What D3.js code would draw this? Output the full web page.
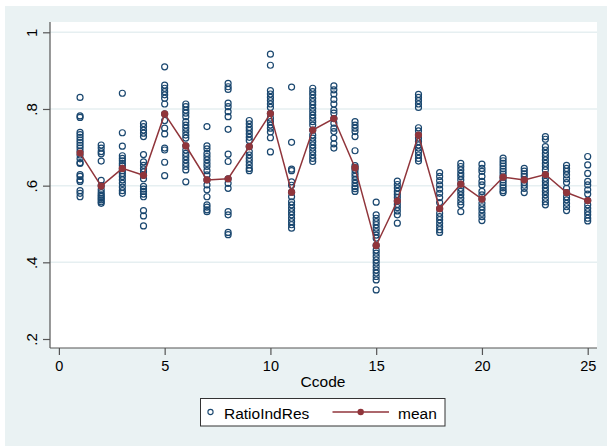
<!DOCTYPE html>
<html>
<head>
<meta charset="utf-8">
<script src="https://d3js.org/d3.v7.min.js"></script>
<style>
  body { margin: 0; background: #fff; }
  text { font-family: "Liberation Sans", Arial, sans-serif; }
</style>
</head>
<body>
<script>
// categories on the x axis
var ccode = d3.range(1, 26);

// RatioIndRes observations, one list per Ccode
var ratioIndRes = [
  [0.830, 0.782, 0.778, 0.739, 0.733, 0.726, 0.719, 0.712, 0.705, 0.698, 0.690, 0.680, 0.670, 0.660, 0.658, 0.629, 0.624, 0.615, 0.611, 0.587, 0.580, 0.571],
  [0.706, 0.698, 0.689, 0.683, 0.664, 0.614, 0.600, 0.589, 0.582, 0.576, 0.572, 0.567, 0.563, 0.558, 0.554],
  [0.841, 0.738, 0.703, 0.678, 0.671, 0.665, 0.658, 0.652, 0.645, 0.639, 0.632, 0.624, 0.615, 0.606, 0.596, 0.587, 0.580],
  [0.762, 0.754, 0.745, 0.737, 0.728, 0.681, 0.662, 0.653, 0.644, 0.636, 0.627, 0.618, 0.598, 0.591, 0.585, 0.578, 0.571, 0.535, 0.521, 0.495],
  [0.910, 0.862, 0.854, 0.845, 0.837, 0.828, 0.813, 0.787, 0.770, 0.750, 0.735, 0.698, 0.693, 0.661, 0.626],
  [0.813, 0.806, 0.797, 0.789, 0.780, 0.767, 0.758, 0.750, 0.741, 0.732, 0.724, 0.704, 0.693, 0.684, 0.676, 0.667, 0.658, 0.650, 0.641, 0.610],
  [0.754, 0.704, 0.696, 0.684, 0.676, 0.667, 0.658, 0.650, 0.639, 0.628, 0.615, 0.602, 0.589, 0.571, 0.550, 0.544, 0.537, 0.532],
  [0.867, 0.858, 0.851, 0.815, 0.806, 0.793, 0.780, 0.747, 0.682, 0.663, 0.618, 0.606, 0.593, 0.532, 0.524, 0.478, 0.472],
  [0.770, 0.761, 0.752, 0.744, 0.735, 0.726, 0.718, 0.702, 0.689, 0.680, 0.671, 0.663, 0.654, 0.645, 0.639],
  [0.943, 0.914, 0.848, 0.839, 0.830, 0.822, 0.813, 0.804, 0.788, 0.776, 0.767, 0.758, 0.750, 0.740, 0.725, 0.688],
  [0.857, 0.713, 0.643, 0.639, 0.610, 0.601, 0.583, 0.571, 0.558, 0.550, 0.541, 0.532, 0.524, 0.515, 0.506, 0.498, 0.489],
  [0.854, 0.845, 0.837, 0.828, 0.819, 0.811, 0.802, 0.793, 0.784, 0.776, 0.767, 0.758, 0.745, 0.732, 0.724, 0.715, 0.706, 0.698, 0.689, 0.680, 0.671, 0.663],
  [0.860, 0.850, 0.839, 0.825, 0.813, 0.797, 0.789, 0.775, 0.763, 0.750, 0.741, 0.724, 0.709, 0.698],
  [0.767, 0.758, 0.750, 0.741, 0.728, 0.691, 0.652, 0.647, 0.641, 0.632, 0.624, 0.615, 0.606, 0.598, 0.592, 0.585],
  [0.557, 0.524, 0.515, 0.506, 0.498, 0.489, 0.480, 0.471, 0.463, 0.444, 0.432, 0.424, 0.415, 0.406, 0.398, 0.389, 0.380, 0.372, 0.363, 0.354, 0.328],
  [0.612, 0.603, 0.594, 0.585, 0.577, 0.569, 0.560, 0.551, 0.543, 0.534, 0.524, 0.502],
  [0.838, 0.830, 0.822, 0.813, 0.804, 0.751, 0.743, 0.732, 0.724, 0.715, 0.706, 0.698, 0.689, 0.680, 0.671, 0.664],
  [0.634, 0.624, 0.613, 0.602, 0.591, 0.580, 0.569, 0.556, 0.540, 0.528, 0.519, 0.511, 0.502, 0.493, 0.485, 0.478],
  [0.658, 0.650, 0.641, 0.632, 0.624, 0.615, 0.604, 0.593, 0.585, 0.576, 0.567, 0.558, 0.550, 0.532],
  [0.656, 0.645, 0.637, 0.624, 0.611, 0.602, 0.585, 0.576, 0.565, 0.554, 0.545, 0.537, 0.528, 0.519, 0.509],
  [0.672, 0.665, 0.658, 0.651, 0.644, 0.637, 0.630, 0.622, 0.615, 0.608, 0.601, 0.594, 0.587, 0.582],
  [0.645, 0.638, 0.631, 0.624, 0.615, 0.608, 0.601, 0.593, 0.582],
  [0.728, 0.721, 0.702, 0.693, 0.684, 0.676, 0.667, 0.658, 0.650, 0.641, 0.629, 0.619, 0.611, 0.602, 0.593, 0.585, 0.576, 0.567, 0.558, 0.550],
  [0.653, 0.645, 0.637, 0.628, 0.618, 0.608, 0.593, 0.582, 0.571, 0.563, 0.554, 0.545, 0.535],
  [0.676, 0.654, 0.632, 0.611, 0.602, 0.589, 0.578, 0.561, 0.550, 0.541, 0.532, 0.524, 0.515, 0.508]
];

// mean of RatioIndRes per Ccode
var meanRatio = [0.685, 0.599, 0.645, 0.627, 0.787, 0.704, 0.615, 0.618, 0.702, 0.788,
                 0.583, 0.745, 0.775, 0.647, 0.444, 0.560, 0.732, 0.540, 0.604, 0.565,
                 0.622, 0.615, 0.629, 0.582, 0.561];

var xTicks = [0, 5, 10, 15, 20, 25];
var yTicks = [0.2, 0.4, 0.6, 0.8, 1];
var yTickLabels = [".2", ".4", ".6", ".8", "1"];

var W = 607, H = 446;
var navy = "#1a476f", maroon = "#90353b";

var svg = d3.select("body").append("svg")
  .attr("width", W)
  .attr("height", H);

// outer graph region
svg.append("rect")
  .attr("x", 5).attr("y", 6)
  .attr("width", W - 5).attr("height", H - 6)
  .attr("fill", "#eaf2f3");

var plot = { left: 50, right: 597, top: 22, bottom: 348 };

svg.append("rect")
  .attr("x", plot.left).attr("y", plot.top)
  .attr("width", plot.right - plot.left)
  .attr("height", plot.bottom - plot.top)
  .attr("fill", "#ffffff");

var x = d3.scaleLinear().domain([0, 25]).range([58.9, 587.7]);
var y = d3.scaleLinear().domain([0.2, 1]).range([339, 32.3]);

// grid lines
svg.selectAll("line.grid")
  .data(yTicks.filter(function(d) { return d > 0.2; }))
  .enter()
  .append("line")
  .attr("class", "grid")
  .attr("x1", plot.left).attr("x2", plot.right)
  .attr("y1", function(d) { return y(d); })
  .attr("y2", function(d) { return y(d); })
  .attr("stroke", "#e6eff1")
  .attr("stroke-width", 1.5);

// y axis
var yAxis = d3.axisLeft(y)
  .tickValues(yTicks)
  .tickFormat(function(d, i) { return yTickLabels[i]; })
  .tickSize(7)
  .tickSizeOuter(0);

var gy = svg.append("g")
  .attr("transform", "translate(" + plot.left + ",0)")
  .call(yAxis);
gy.select(".domain").remove();
gy.selectAll(".tick line").attr("stroke", "#555").attr("stroke-width", 1.2);
gy.selectAll(".tick text")
  .attr("x", 0).attr("dy", 0)
  .attr("transform", "translate(-13,0) rotate(-90)")
  .attr("text-anchor", "middle")
  .attr("font-size", 15)
  .attr("font-family", "Liberation Sans, Arial, sans-serif")
  .attr("fill", "#000");

svg.append("line")
  .attr("x1", plot.left).attr("x2", plot.left)
  .attr("y1", plot.top).attr("y2", plot.bottom)
  .attr("stroke", "#555").attr("stroke-width", 1.2);

// x axis
var xAxis = d3.axisBottom(x)
  .tickValues(xTicks)
  .tickFormat(d3.format("d"))
  .tickSize(7)
  .tickSizeOuter(0);

var gx = svg.append("g")
  .attr("transform", "translate(0," + plot.bottom + ")")
  .call(xAxis);
gx.select(".domain").remove();
gx.selectAll(".tick line").attr("stroke", "#555").attr("stroke-width", 1.2);
gx.selectAll(".tick text")
  .attr("y", 13).attr("dy", "0.71em")
  .attr("font-size", 14.5)
  .attr("font-family", "Liberation Sans, Arial, sans-serif")
  .attr("fill", "#000");

svg.append("line")
  .attr("x1", plot.left).attr("x2", plot.right)
  .attr("y1", plot.bottom).attr("y2", plot.bottom)
  .attr("stroke", "#555").attr("stroke-width", 1.2);

svg.append("text")
  .attr("x", 323)
  .attr("y", 386.5)
  .attr("text-anchor", "middle")
  .attr("font-size", 15.5)
  .text("Ccode");

// scatter of observations
var obs = [];
ratioIndRes.forEach(function(vals, i) {
  vals.forEach(function(v) { obs.push({ c: ccode[i], v: v }); });
});

svg.append("g").selectAll("circle")
  .data(obs)
  .enter()
  .append("circle")
  .attr("cx", function(d) { return x(d.c); })
  .attr("cy", function(d) { return y(d.v); })
  .attr("r", 3)
  .attr("fill", "none")
  .attr("stroke", navy)
  .attr("stroke-width", 1.2);

// mean line
var meanData = ccode.map(function(c, i) { return { c: c, v: meanRatio[i] }; });

svg.append("path")
  .datum(meanData)
  .attr("d", d3.line()
    .x(function(d) { return x(d.c); })
    .y(function(d) { return y(d.v); }))
  .attr("fill", "none")
  .attr("stroke", maroon)
  .attr("stroke-width", 1.5);

svg.append("g").selectAll("circle")
  .data(meanData)
  .enter()
  .append("circle")
  .attr("cx", function(d) { return x(d.c); })
  .attr("cy", function(d) { return y(d.v); })
  .attr("r", 3.6)
  .attr("fill", maroon);

// legend
var legend = svg.append("g");
legend.append("rect")
  .attr("x", 200.5).attr("y", 398.5)
  .attr("width", 244.5).attr("height", 27.5)
  .attr("fill", "#fff")
  .attr("stroke", "#333")
  .attr("stroke-width", 1);

legend.append("circle")
  .attr("cx", 210.5).attr("cy", 412)
  .attr("r", 2.6)
  .attr("fill", "none")
  .attr("stroke", navy)
  .attr("stroke-width", 1.1);

legend.append("text")
  .attr("x", 224).attr("y", 418.5)
  .attr("font-size", 15.5)
  .text("RatioIndRes");

legend.append("line")
  .attr("x1", 332.5).attr("x2", 389)
  .attr("y1", 412).attr("y2", 412)
  .attr("stroke", maroon)
  .attr("stroke-width", 1.5);

legend.append("circle")
  .attr("cx", 360.7).attr("cy", 412)
  .attr("r", 3.2)
  .attr("fill", maroon);

legend.append("text")
  .attr("x", 398).attr("y", 418.5)
  .attr("font-size", 15.5)
  .text("mean");
</script>
</body>
</html>
